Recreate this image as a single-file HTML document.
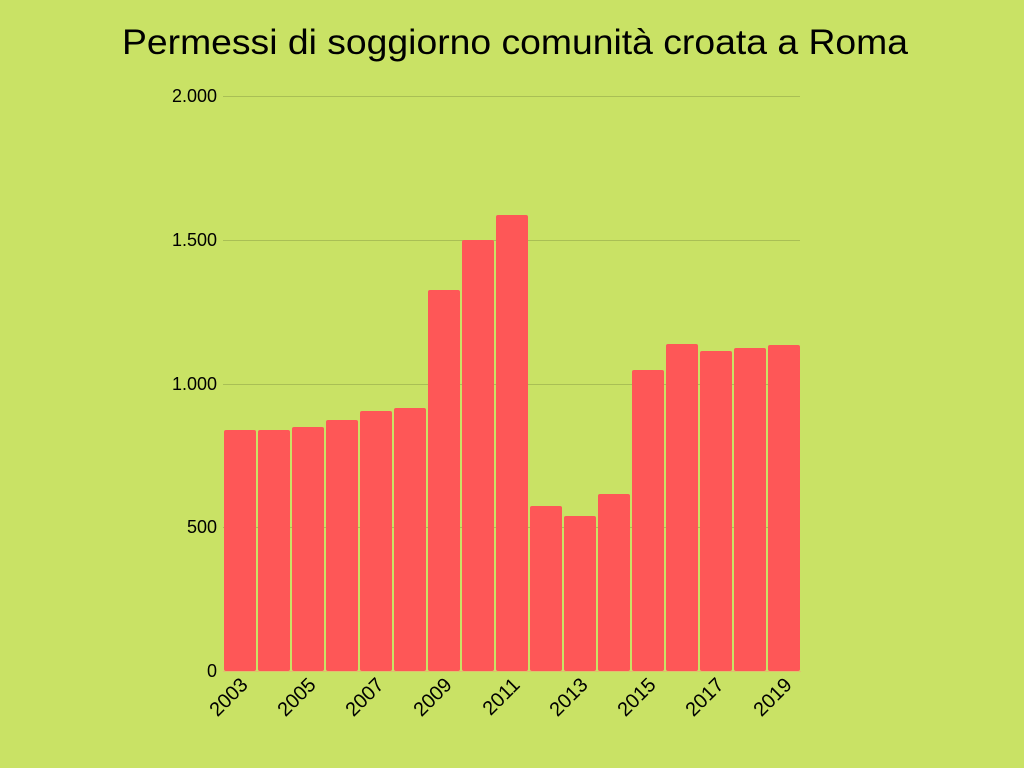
<!DOCTYPE html>
<html><head><meta charset="utf-8"><style>body{margin:0;background:#c9e265}</style></head><body>
<svg width="1024" height="768" xmlns="http://www.w3.org/2000/svg" style="display:block">
<rect width="1024" height="768" fill="#c9e265"/>
<text x="515" y="54" text-anchor="middle" font-family="Liberation Sans, DejaVu Sans, sans-serif" font-size="35" fill="#000" textLength="786" lengthAdjust="spacingAndGlyphs">Permessi di soggiorno comunità croata a Roma</text>
<g stroke="#a9bf55" stroke-width="1">
<line x1="223" y1="96.5" x2="800" y2="96.5"/><line x1="223" y1="240.5" x2="800" y2="240.5"/><line x1="223" y1="384.5" x2="800" y2="384.5"/><line x1="223" y1="527.5" x2="800" y2="527.5"/>
</g>
<g font-family="Liberation Sans, sans-serif" font-size="18" fill="#000" text-anchor="end">
<text x="217" y="102">2.000</text><text x="217" y="246">1.500</text><text x="217" y="390">1.000</text><text x="217" y="533">500</text><text x="217" y="677">0</text>
</g>
<g fill="#fe5757" id="bars"></g>
<line x1="223" y1="671.5" x2="801" y2="671.5" stroke="#e0c070" stroke-width="1"/>
<g id="lab" font-family="Liberation Sans, sans-serif" font-size="20" fill="#000" text-anchor="end"></g>
<script>
var tops=[430,430,427,420,411,408,290,240,215,506,516,494,370,344,351,348,345];
var b=document.getElementById('bars'),l=document.getElementById('lab');
var ns='http://www.w3.org/2000/svg';
tops.forEach(function(t,i){var r=document.createElementNS(ns,'rect');var x=224+i*34;
r.setAttribute('x',x);r.setAttribute('y',t);r.setAttribute('width',32);r.setAttribute('height',671-t);r.setAttribute('rx',2);b.appendChild(r);
if(i%2==0){var tx=document.createElementNS(ns,'text');var cx=x+25,cy=686;tx.setAttribute('x',cx);tx.setAttribute('y',cy);tx.setAttribute('transform','rotate(-45 '+cx+' '+cy+')');tx.textContent=2003+i;l.appendChild(tx);}});
</script>
</svg>
</body></html>
